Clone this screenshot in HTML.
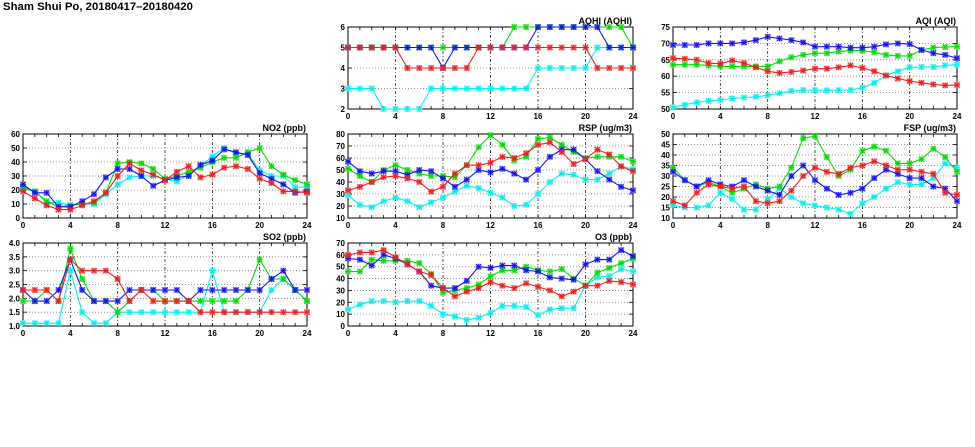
<!DOCTYPE html>
<html><head><meta charset="utf-8">
<style>
html,body{margin:0;padding:0;background:#fff;}
svg{display:block;font-family:"Liberation Sans",sans-serif;}
</style></head>
<body>
<svg id="chart" width="975" height="447" viewBox="0 0 975 447" xmlns="http://www.w3.org/2000/svg">
<text x="3" y="10" font-size="11" font-weight="bold" textLength="190" lengthAdjust="spacingAndGlyphs">Sham Shui Po, 20180417–20180420</text>
</svg>
<script>
const hours = [0,1,2,3,4,5,6,7,8,9,10,11,12,13,14,15,16,17,18,19,20,21,22,23,24];
const xTicks = [0,4,8,12,16,20,24];

const aqhiGreen = [5,5,5,5,5,5,5,5,5,5,5,5,5,5,6,6,6,6,6,6,6,6,6,6,5];
const aqhiCyan  = [3,3,3,2,2,2,2,3,3,3,3,3,3,3,3,3,4,4,4,4,4,5,5,5,5];
const aqhiBlue  = [5,5,5,5,5,5,5,5,4,5,5,5,5,5,5,5,6,6,6,6,6,6,5,5,5];
const aqhiRed   = [5,5,5,5,5,4,4,4,4,4,4,5,5,5,5,5,5,5,5,5,5,4,4,4,4];
const aqhiTicks = [2,3,4,5,6];

const aqiGreen = [63.5,63.5,63.5,63.3,63,63,63,63,63,64.5,65.8,66.5,67,67,67.5,67.8,67.8,67.3,66.5,66.2,66.2,68,68.7,68.9,69];
const aqiCyan  = [50.5,51.3,52,52.5,52.8,53.2,53.5,53.7,54.2,54.8,55.5,55.8,55.8,55.7,55.8,55.8,56.5,58,60.2,61.5,62.7,62.8,62.8,63.3,63.5];
const aqiBlue  = [69.5,69.5,69.5,70,70,70,70.3,71,72,71.5,71,70.3,69,69,69,68.7,68.7,69,69.7,70,69.8,68,67,66.5,65.5];
const aqiRed   = [65.5,65.3,65,64,63.8,64.8,64,62.7,61.5,61,61.3,61.7,62.3,62.3,62.7,63.3,62.5,61.5,60.2,59.3,58.5,58,57.5,57.2,57.3];
const aqiTicks = [50,55,60,65,70,75];

const no2Green = [22,19,12,8,9,10,11,18,39,40,39,35,28,30,33,36,40,43,43,47,50,37,31,27,24];
const no2Cyan  = [21,19,11,11,9,10,10,17,24,29,30,30,28,26,31,37,44,50,46,46,34,30,30,22,22];
const no2Blue  = [24,18,18,8,8,12,17,29,35,35,30,23,27,29,30,38,41,49,47,45,32,28,24,18,19];
const no2Red   = [19,14,9,6,6,9,12,18,30,39,34,31,27,33,37,29,31,36,37,35,28,25,19,19,18];
const no2Ticks = [0,10,20,30,40,50,60];

const rspGreen = [51,45,40,50,54,50,47,45,45,44,54,69,79,71,58,61,76,77,71,65,60,61,61,61,57];
const rspCyan  = [29,21,19,24,27,24,19,23,27,32,37,35,31,27,20,21,30,40,47,46,42,42,47,53,51];
const rspBlue  = [57,49,47,49,49,46,50,49,43,36,42,50,48,51,47,42,50,61,67,67,59,49,42,36,33];
const rspRed   = [33,36,40,44,45,43,40,32,36,47,54,54,56,61,60,64,71,73,65,55,59,67,63,53,49];
const rspTicks = [10,20,30,40,50,60,70,80];

const fspGreen = [34,28,25,27,25,22,24,26,24,25,34,48,49,39,30,33,42,44,42,36,36,38,43,39,32];
const fspCyan  = [16,15,15,16,22,19,14,14,19,24,20,17,16,15,14,12,17,20,24,27,26,26,29,36,34];
const fspBlue  = [32,28,25,28,26,25,28,25,23,21,30,35,28,24,21,22,24,29,33,31,29,29,25,24,18];
const fspRed   = [18,16,22,26,25,24,25,18,17,18,23,30,34,32,31,34,35,37,35,33,33,32,31,22,21];
const fspTicks = [10,15,20,25,30,35,40,45,50];

const so2Green = [1.9,1.9,2.3,1.9,3.8,2.7,1.9,1.9,1.5,1.9,2.3,2.3,1.9,1.9,1.9,1.9,1.9,1.9,1.9,2.3,3.4,2.7,2.7,2.3,1.9];
const so2Cyan  = [1.1,1.1,1.1,1.1,3.0,1.5,1.1,1.1,1.5,1.5,1.5,1.5,1.5,1.5,1.5,1.5,3.0,1.5,1.5,1.5,1.5,2.3,2.7,2.3,1.9];
const so2Blue  = [2.3,1.9,1.9,2.3,3.4,2.3,1.9,1.9,1.9,2.3,2.3,2.3,2.3,2.3,1.9,2.3,2.3,2.3,2.3,2.3,2.3,2.7,3.0,2.3,2.3];
const so2Red   = [2.3,2.3,2.3,1.9,3.4,3.0,3.0,3.0,2.7,1.9,2.3,1.9,1.9,1.9,1.9,1.5,1.5,1.5,1.5,1.5,1.5,1.5,1.5,1.5,1.5];
const so2Ticks = [1.0,1.5,2.0,2.5,3.0,3.5,4.0];

const o3Green = [46,46,56,55,55,55,53,44,28,30,32,35,42,47,47,50,47,46,48,40,34,45,49,53,57];
const o3Cyan  = [14,18,21,21,20,21,21,17,10,8,5,7,11,17,17,16,9,14,15,15,34,41,42,48,46];
const o3Blue  = [57,56,51,60,57,52,46,34,32,32,38,50,49,51,51,47,46,41,40,39,52,56,56,64,59];
const o3Red   = [60,62,62,64,58,52,46,43,32,25,29,32,37,34,32,36,33,30,25,29,34,34,38,37,35];
const o3Ticks = [0,10,20,30,40,50,60,70];

const NS = "http://www.w3.org/2000/svg";
const svg = document.getElementById("chart");
const COLORS = {green:"#00dd00", cyan:"#00f0f0", blue:"#1414f0", red:"#f01e1e"};

function mk(tag, attrs, parent) {
  const e = document.createElementNS(NS, tag);
  for (const k in attrs) e.setAttribute(k, attrs[k]);
  (parent || svg).appendChild(e);
  return e;
}

function panel(id, label, box, ticks, dec, series) {
  const g = mk("g", {});
  
  
  const ymin = ticks[0], ymax = ticks[ticks.length - 1];
  const xs = v => box.x0 + (v - 0) / 24 * (box.x1 - box.x0);
  const ys = v => box.y1 - (v - ymin) / (ymax - ymin) * (box.y1 - box.y0);
  ticks.forEach((t, i) => {
    if (i > 0 && i < ticks.length - 1) {
      const l = mk("line", {x1:box.x0, x2:box.x1, y1:ys(t), y2:ys(t), stroke:"#777", "stroke-width":0.8, "stroke-dasharray":"1,2"}, g);
      
      
    }
    const lbl = mk("text", {x:box.x0 - 3, y:ys(t) + 3, "font-size":8, "font-weight":"bold", "text-anchor":"end"}, g);
    lbl.textContent = dec ? t.toFixed(1) : String(t);
    
    
  });
  xTicks.forEach((t, i) => {
    if (i > 0 && i < xTicks.length - 1) {
      const l = mk("line", {x1:xs(t), x2:xs(t), y1:box.y0, y2:box.y1, stroke:"#222", "stroke-width":0.8, "stroke-dasharray":"3,2,1,2"}, g);
      
      
    }
    const lbl = mk("text", {x:xs(t), y:box.y1 + 10, "font-size":8, "font-weight":"bold", "text-anchor":"middle"}, g);
    lbl.textContent = String(t);
    
    
  });
  hours.forEach(h => {
    mk("line", {x1:xs(h), x2:xs(h), y1:box.y1, y2:box.y1 - 3, stroke:"#000", "stroke-width":0.8}, g);
    mk("line", {x1:xs(h), x2:xs(h), y1:box.y0, y2:box.y0 + 3, stroke:"#000", "stroke-width":0.8}, g);
  });
  ticks.forEach(t => {
    mk("line", {x1:box.x0, x2:box.x0 + 4, y1:ys(t), y2:ys(t), stroke:"#000", "stroke-width":0.8}, g);
    mk("line", {x1:box.x1, x2:box.x1 - 4, y1:ys(t), y2:ys(t), stroke:"#000", "stroke-width":0.8}, g);
  });
  const frame = mk("rect", {x:box.x0, y:box.y0, width:box.x1 - box.x0, height:box.y1 - box.y0, fill:"none", stroke:"#000", "stroke-width":1}, g);
  
  
  const title = mk("text", {x:box.x1 - 1, y:box.y0 - 3, "font-size":9, "font-weight":"bold", "text-anchor":"end"}, g);
  title.textContent = label;
  
  
  series.forEach(([name, data]) => {
    const c = COLORS[name];
    const sg = mk("g", {}, g);
    
    
    const pts = data.map((v, i) => xs(hours[i]).toFixed(1) + "," + ys(v).toFixed(1)).join(" ");
    const pl = mk("polyline", {points:pts, fill:"none", stroke:c, "stroke-width":1.1}, sg);
    
    
    data.forEach((v, i) => {
      const x = xs(hours[i]), y = ys(v);
      const m = mk("g", {}, sg);
      
      
      mk("rect", {x:x - 3, y:y - 3, width:6, height:6, fill:c, opacity:0.35}, m);
      mk("path", {d:`M${x-2.5},${y-2.5}L${x+2.5},${y+2.5}M${x-2.5},${y+2.5}L${x+2.5},${y-2.5}M${x-2.8},${y}L${x+2.8},${y}M${x},${y-2.8}L${x},${y+2.8}`, stroke:c, "stroke-width":1}, m);
    });
  });
}

panel("aqhi", "AQHI (AQHI)", {x0:348, x1:633, y0:27, y1:109}, aqhiTicks, false,
  [["cyan", aqhiCyan], ["green", aqhiGreen], ["blue", aqhiBlue], ["red", aqhiRed]]);
panel("aqi", "AQI (AQI)", {x0:673, x1:957, y0:27, y1:109}, aqiTicks, false,
  [["cyan", aqiCyan], ["green", aqiGreen], ["blue", aqiBlue], ["red", aqiRed]]);
panel("no2", "NO2 (ppb)", {x0:23, x1:307, y0:134, y1:218}, no2Ticks, false,
  [["cyan", no2Cyan], ["green", no2Green], ["blue", no2Blue], ["red", no2Red]]);
panel("rsp", "RSP (ug/m3)", {x0:348, x1:633, y0:134, y1:218}, rspTicks, false,
  [["cyan", rspCyan], ["green", rspGreen], ["blue", rspBlue], ["red", rspRed]]);
panel("fsp", "FSP (ug/m3)", {x0:673, x1:957, y0:134, y1:218}, fspTicks, false,
  [["cyan", fspCyan], ["green", fspGreen], ["blue", fspBlue], ["red", fspRed]]);
panel("so2", "SO2 (ppb)", {x0:23, x1:307, y0:243, y1:326}, so2Ticks, true,
  [["cyan", so2Cyan], ["green", so2Green], ["blue", so2Blue], ["red", so2Red]]);
panel("o3", "O3 (ppb)", {x0:348, x1:633, y0:243, y1:326}, o3Ticks, false,
  [["cyan", o3Cyan], ["green", o3Green], ["blue", o3Blue], ["red", o3Red]]);
</script>
</body></html>
